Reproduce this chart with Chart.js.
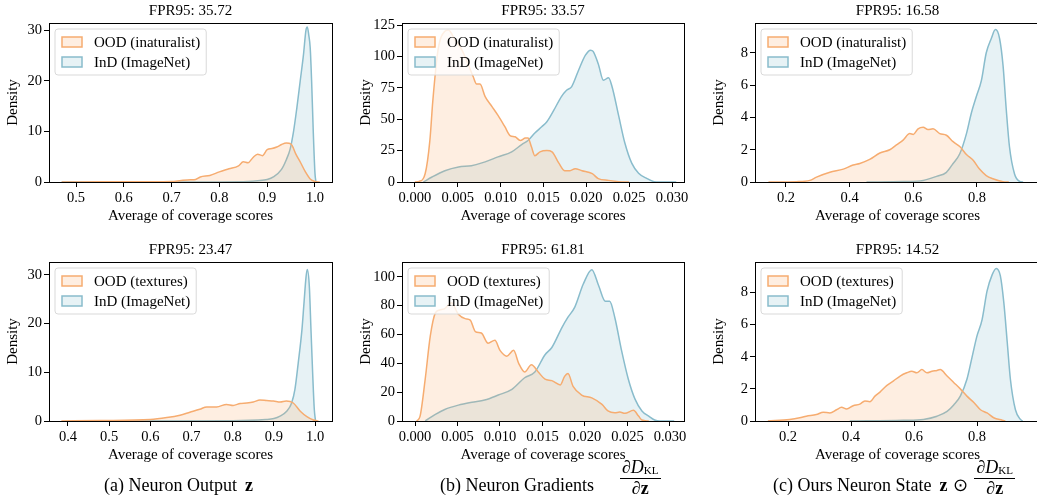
<!DOCTYPE html>
<html>
<head>
<meta charset="utf-8">
<script src="https://cdn.jsdelivr.net/npm/chart.js@4"></script>
<style>
  html, body { margin: 0; padding: 0; background: #fff; overflow: hidden; }
  body { width: 1037px; height: 502px; position: relative; font-family: "Liberation Serif", serif; }
  canvas { position: absolute; }
  .cap { position: absolute; top: 465px; height: 40px; display: flex; align-items: center;
         font-size: 18px; white-space: nowrap; color: #000; }
  .cap b { font-weight: bold; margin-left: 8px; }
  .frac { display: inline-flex; flex-direction: column; align-items: center; font-size: 18px;
          margin-left: 6px; line-height: 0.95; position: relative; top: -7px; }
  .frac .num { border-bottom: 1.5px solid #000; padding: 0 2px 2px 2px; }
  .frac .den { padding-top: 1px; }
  .frac sub { font-size: 11px; vertical-align: -1px; }
  .frac b { margin-left: 0; }
  .odot { margin-left: 6px; font-size: 18px; }
</style>
</head>
<body>
<canvas id="c1" width="345" height="230" style="left:0px;top:0px"></canvas>
<canvas id="c2" width="345" height="230" style="left:353px;top:0px"></canvas>
<canvas id="c3" width="345" height="230" style="left:706px;top:0px"></canvas>
<canvas id="c4" width="345" height="230" style="left:0px;top:239px"></canvas>
<canvas id="c5" width="345" height="230" style="left:353px;top:239px"></canvas>
<canvas id="c6" width="345" height="230" style="left:706px;top:239px"></canvas>

<div class="cap" style="left:104px">(a) Neuron Output <b>z</b></div>
<div class="cap" style="left:440px">(b) Neuron Gradients
  <span class="frac" style="margin-left:26px"><span class="num"><i>∂D</i><sub>KL</sub></span><span class="den"><i>∂</i><b>z</b></span></span>
</div>
<div class="cap" style="left:773px">(c) Ours Neuron State <b>z</b><span class="odot">⊙</span>
  <span class="frac"><span class="num"><i>∂D</i><sub>KL</sub></span><span class="den"><i>∂</i><b>z</b></span></span>
</div>

<script>
// titres des sous-graphiques
const titles = ['FPR95: 35.72', 'FPR95: 33.57', 'FPR95: 16.58', 'FPR95: 23.47', 'FPR95: 61.81', 'FPR95: 14.52'];

// graduations
const ticksOutX = [0.5, 0.6, 0.7, 0.8, 0.9, 1.0];
const ticksOutX2 = [0.4, 0.5, 0.6, 0.7, 0.8, 0.9, 1.0];
const ticksGradX = [0.000, 0.005, 0.010, 0.015, 0.020, 0.025, 0.030];
const ticksOursX = [0.2, 0.4, 0.6, 0.8];
const ticksOutY = [0, 10, 20, 30];
const ticksGradY1 = [0, 25, 50, 75, 100, 125];
const ticksGradY2 = [0, 20, 40, 60, 80, 100];
const ticksOursY = [0, 2, 4, 6, 8];

// courbes de densité [x, densité]
// (a) sortie du neurone - inaturalist
const outInatOod = [[0.47,0],[0.55,0.03],[0.65,0.05],[0.70,0.1],[0.72,0.3],[0.74,0.45],[0.75,0.5],[0.76,1.0],[0.78,1.3],[0.80,2.0],[0.82,2.6],[0.84,3.2],[0.85,4.0],[0.86,3.8],[0.87,4.8],[0.88,5.5],[0.89,5.2],[0.90,6.4],[0.91,6.6],[0.92,6.9],[0.93,7.4],[0.94,7.7],[0.95,7.5],[0.96,5.5],[0.97,3.8],[0.98,2.0],[0.99,0.6],[1.0,0.1],[1.01,0]];
const outInatInd = [[0.47,0],[0.80,0.02],[0.86,0.1],[0.88,0.25],[0.90,0.5],[0.913,1.0],[0.93,2.5],[0.94,4.4],[0.948,6.5],[0.955,9.9],[0.962,14.6],[0.969,19.9],[0.976,25.2],[0.981,29.9],[0.984,30.6],[0.987,29],[0.99,26.5],[0.993,19.8],[0.9965,9.7],[1.0,1.7],[1.002,0]];
// (b) gradients - inaturalist
const gradInatOod = [[0.0,0],[0.0005,0.5],[0.0012,6.6],[0.00175,33],[0.0021,65],[0.0027,105],[0.0035,120],[0.0039,121],[0.0047,113],[0.0055,105],[0.0062,94],[0.0068,84],[0.0072,78],[0.0076,78],[0.0082,68],[0.009,60],[0.0097,53],[0.0105,44],[0.0111,37],[0.0117,36],[0.0123,33],[0.0129,35],[0.0132,35],[0.0136,28],[0.014,21],[0.0146,24],[0.0154,25],[0.016,24],[0.0168,15],[0.0175,9],[0.0181,9],[0.0187,10.6],[0.0195,9],[0.0207,6.6],[0.0214,2.7],[0.0226,1.3],[0.0238,0.3],[0.025,0]];
const gradInatInd = [[0.001,0],[0.002,4],[0.0035,9],[0.0051,12],[0.0066,13],[0.0082,16],[0.0097,20],[0.0113,24],[0.0125,30],[0.0132,33],[0.014,39],[0.0148,44],[0.0154,48],[0.0162,57],[0.0171,68],[0.0177,73],[0.0183,76],[0.0191,89],[0.0199,101],[0.0205,105],[0.0208,104],[0.0214,94],[0.022,81],[0.0226,83],[0.023,76],[0.0238,52],[0.0245,31],[0.0253,15],[0.0261,7],[0.0271,2.7],[0.0279,0.3],[0.0285,0],[0.0305,0]];
// (c) notre état - inaturalist
const oursInatOod = [[0.145,0],[0.233,0.02],[0.275,0.1],[0.296,0.3],[0.338,0.6],[0.38,0.8],[0.411,1.05],[0.432,1.15],[0.463,1.4],[0.495,1.8],[0.526,2.0],[0.547,2.3],[0.568,2.6],[0.589,3.0],[0.60,2.95],[0.615,3.3],[0.631,3.4],[0.646,3.25],[0.662,3.3],[0.683,3.0],[0.704,2.9],[0.725,2.5],[0.746,2.2],[0.767,1.7],[0.788,1.35],[0.808,0.8],[0.829,0.4],[0.85,0.2],[0.882,0.02],[0.9,0]];
const oursInatInd = [[0.453,0],[0.568,0.03],[0.631,0.1],[0.673,0.35],[0.704,0.6],[0.725,1.15],[0.746,1.75],[0.767,3.0],[0.782,4.25],[0.798,5.3],[0.814,6.3],[0.829,8.0],[0.845,8.9],[0.858,9.45],[0.871,8.9],[0.882,7.2],[0.892,4.5],[0.902,2.2],[0.918,0.5],[0.934,0.04],[0.945,0]];
// (a) sortie du neurone - textures
const outTexOod = [[0.384,0],[0.477,0.1],[0.60,0.3],[0.64,0.7],[0.672,1.2],[0.696,1.8],[0.72,2.4],[0.737,2.9],[0.761,2.9],[0.785,3.4],[0.801,3.2],[0.818,3.6],[0.834,3.7],[0.85,3.9],[0.866,4.3],[0.882,4.2],[0.899,4.1],[0.915,3.9],[0.93,4.1],[0.947,3.7],[0.964,2.0],[0.98,0.9],[0.996,0.2],[1.008,0]];
const outTexInd = [[0.47,0],[0.80,0.05],[0.88,0.3],[0.90,0.5],[0.915,1.0],[0.931,2.0],[0.943,3.7],[0.951,6.5],[0.959,11.9],[0.968,18.7],[0.973,24.2],[0.978,29.6],[0.981,31.1],[0.986,27.6],[0.99,18.7],[0.994,9.9],[0.998,2.4],[1.001,0]];
// (b) gradients - textures
const gradTexOod = [[0.0002,0],[0.0006,3.4],[0.0012,29],[0.0018,59],[0.0024,75],[0.0029,77],[0.0035,78],[0.0043,82],[0.0051,74],[0.0059,71],[0.0065,70],[0.0071,62],[0.0078,61],[0.0086,54],[0.0094,56],[0.01,49],[0.0108,45],[0.0116,49],[0.0122,40],[0.0129,34],[0.0137,39],[0.0145,34],[0.0153,29],[0.0161,28],[0.0171,25],[0.0176,31],[0.018,33],[0.0186,24],[0.0196,18],[0.0208,16],[0.022,11.5],[0.0227,7],[0.0235,5.7],[0.0241,6.2],[0.0247,5.3],[0.0257,7.4],[0.0263,3.4],[0.0267,0.7],[0.0275,0]];
const gradTexInd = [[0.0012,0],[0.0024,4.6],[0.0035,8],[0.0051,11],[0.0067,13],[0.0082,14.5],[0.0098,18],[0.0114,22],[0.0129,30],[0.0141,34],[0.0153,46],[0.0161,51],[0.0173,65],[0.018,72],[0.0188,79],[0.0198,95],[0.0208,105],[0.0216,94],[0.0224,83],[0.0229,83],[0.0235,72],[0.0243,49],[0.0251,29],[0.0259,15],[0.0267,7],[0.0275,3.4],[0.0282,0.7],[0.0288,0],[0.0305,0]];
// (c) notre état - textures
const oursTexOod = [[0.136,0],[0.205,0.1],[0.237,0.2],[0.258,0.3],[0.29,0.4],[0.312,0.55],[0.333,0.5],[0.354,0.7],[0.37,0.85],[0.386,0.75],[0.407,0.95],[0.428,1.05],[0.444,1.25],[0.46,1.2],[0.476,1.55],[0.492,1.8],[0.513,2.2],[0.535,2.5],[0.556,2.8],[0.577,3.0],[0.593,3.1],[0.609,3.0],[0.625,3.2],[0.641,3.0],[0.657,3.1],[0.673,3.15],[0.683,3.2],[0.705,2.8],[0.726,2.4],[0.747,2.0],[0.768,1.55],[0.79,1.15],[0.811,0.7],[0.832,0.5],[0.853,0.2],[0.88,0.05],[0.89,0]];
const oursTexInd = [[0.396,0],[0.566,0.04],[0.63,0.1],[0.673,0.3],[0.705,0.6],[0.726,1.0],[0.747,1.55],[0.768,2.6],[0.784,3.95],[0.80,5.3],[0.816,6.3],[0.832,8.1],[0.848,9.1],[0.861,9.5],[0.874,9.05],[0.885,7.4],[0.896,4.9],[0.906,2.6],[0.922,0.7],[0.938,0.1],[0.945,0]];

const oodInat = 'OOD (inaturalist)';
const oodTex = 'OOD (textures)';
const indLabel = 'InD (ImageNet)';

const police = '"Liberation Serif", "Times New Roman", serif';
const orange = 'rgb(246,172,112)';
const orangeFill = 'rgba(248,172,107,0.2)';
const bleu = 'rgb(137,188,204)';
const bleuFill = 'rgba(137,188,204,0.2)';

// légende encadrée en haut à gauche, comme matplotlib
const legendeBoite = {
    id: 'legendeBoite',
    afterDatasetsDraw(chart) {
        const ctx = chart.ctx, a = chart.chartArea;
        const ds = chart.data.datasets;
        ctx.save();
        ctx.font = '15px ' + police;
        const w = Math.max(...ds.map(d => ctx.measureText(d.label).width)) + 45;
        const x = a.left + 6, y = a.top + 6;
        ctx.beginPath();
        ctx.roundRect(x, y, w, 46, 3);
        ctx.fillStyle = 'rgba(255,255,255,0.8)';
        ctx.fill();
        ctx.strokeStyle = '#d9d9d9';
        ctx.lineWidth = 1;
        ctx.stroke();
        ds.forEach((d, i) => {
            const cy = y + 13 + i * 20;
            ctx.fillStyle = d.backgroundColor;
            ctx.fillRect(x + 7, cy - 5, 20, 10);
            ctx.strokeStyle = d.borderColor;
            ctx.lineWidth = 1.5;
            ctx.strokeRect(x + 7, cy - 5, 20, 10);
            ctx.fillStyle = '#000';
            ctx.textBaseline = 'middle';
            ctx.fillText(d.label, x + 39, cy + 1);
        });
        // cadre complet autour des axes
        ctx.strokeStyle = '#000';
        ctx.lineWidth = 1;
        ctx.strokeRect(a.left + 0.5, a.top + 0.5, a.right - a.left, a.bottom - a.top);
        ctx.restore();
    }
};

function serie(label, pts, ligne, fond) {
    return {
        label: label,
        data: pts.map(p => ({x: p[0], y: p[1]})),
        borderColor: ligne,
        backgroundColor: fond,
        borderWidth: 1.5,
        pointRadius: 0,
        fill: 'origin',
        cubicInterpolationMode: 'monotone'
    };
}

function graphe(id, titre, oodLabel, ood, ind, xr, yr, xt, yt, dec, droite) {
    const ctx = document.getElementById(id);
    return new Chart(ctx, {
        type: 'line',
        data: {
            datasets: [serie(oodLabel, ood, orange, orangeFill), serie(indLabel, ind, bleu, bleuFill)]
        },
        options: {
            responsive: false,
            animation: false,
            layout: {autoPadding: false, padding: {left: 0, right: droite, top: 0, bottom: 0}},
            plugins: {
                legend: {display: false},
                tooltip: {enabled: false},
                title: {
                    display: true, text: titre, color: '#000', fullSize: false,
                    font: {family: police, size: 15, weight: 'normal', lineHeight: 1.2},
                    padding: {top: 2, bottom: 3}
                }
            },
            scales: {
                x: {
                    type: 'linear', min: xr[0], max: xr[1],
                    afterFit: s => { s.height = 48; },
                    afterBuildTicks: s => { s.ticks = xt.map(v => ({value: v})); },
                    grid: {display: true, drawOnChartArea: false, drawTicks: true, tickLength: 5, color: '#000'},
                    border: {display: true, color: '#000', width: 1},
                    ticks: {color: '#000', padding: 2, maxRotation: 0, autoSkip: false,
                            font: {family: police, size: 14.5}, callback: v => v.toFixed(dec)},
                    title: {display: true, text: 'Average of coverage scores', color: '#000',
                            font: {family: police, size: 15, lineHeight: 1.2}, padding: {top: 0, bottom: 5}}
                },
                y: {
                    min: yr[0], max: yr[1],
                    afterFit: s => { s.width = 49; },
                    afterBuildTicks: s => { s.ticks = yt.map(v => ({value: v})); },
                    grid: {display: true, drawOnChartArea: false, drawTicks: true, tickLength: 5, color: '#000'},
                    border: {display: true, color: '#000', width: 1},
                    ticks: {color: '#000', padding: 2, autoSkip: false,
                            font: {family: police, size: 14.5}, callback: v => String(v)},
                    title: {display: true, text: 'Density', color: '#000',
                            font: {family: police, size: 15, lineHeight: 1.2}, padding: {top: 4, bottom: 0}}
                }
            }
        },
        plugins: [legendeBoite]
    });
}

graphe('c1', titles[0], oodInat, outInatOod, outInatInd, [0.4435, 1.0356], [0, 31.4], ticksOutX, ticksOutY, 1, 13);
graphe('c2', titles[1], oodInat, gradInatOod, gradInatInd, [-0.0015, 0.0314], [0, 126.6], ticksGradX, ticksGradY1, 3, 14);
graphe('c3', titles[2], oodInat, oursInatOod, oursInatInd, [0.1027, 0.998], [0, 9.86], ticksOursX, ticksOursY, 1, 11);
graphe('c4', titles[3], oodTex, outTexOod, outTexInd, [0.354, 1.041], [0, 32.65], ticksOutX2, ticksOutY, 1, 13);
graphe('c5', titles[4], oodTex, gradTexOod, gradTexInd, [-0.00153, 0.03165], [0, 110.3], ticksGradX, ticksGradY2, 3, 14);
graphe('c6', titles[5], oodTex, oursTexOod, oursTexInd, [0.0952, 1.0], [0, 9.9], ticksOursX, ticksOursY, 1, 11);
</script>
</body>
</html>
